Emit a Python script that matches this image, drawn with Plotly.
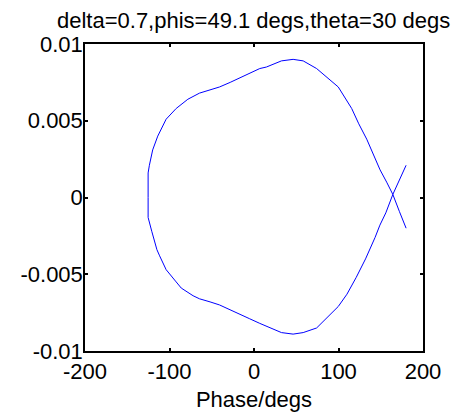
import plotly.graph_objects as go

# Trajectory traced in the (phase, amplitude) plane, in drawing order:
# upper-right tail -> crossing -> lower lobe (right to left) -> upper lobe (left to right) -> lower-right tail
phase_degs = [
    180.0, 172.0, 164.3,
    156.0, 149.0, 143.3, 132.0, 121.0, 110.0, 99.7, 85.0, 74.1, 58.2, 46.3, 32.5, 18.6, 6.8, -5.1,
    -17.0, -28.2, -40.8, -52.0, -64.5, -72.1, -78.3, -86.1, -92.1, -100.1, -104.0, -111.7, -114.9,
    -121.0, -123.8, -125.3, -125.3,
    -125.3, -123.8, -119.9, -113.9, -104.0, -92.1, -78.3, -64.5, -52.0, -40.8, -28.2, -17.0, -5.1,
    6.8, 14.7, 32.5, 46.3, 58.2, 74.1, 85.0, 99.7, 115.6, 124.0, 133.4, 141.0, 149.2, 157.0,
    164.3, 172.0, 180.0,
]
amplitude = [
    0.0021, 0.0011, 0.0002,
    -0.0010, -0.0018, -0.0026, -0.0040, -0.0052, -0.0063, -0.0071, -0.0079, -0.0085, -0.0088, -0.0089,
    -0.0088, -0.0085, -0.0082, -0.0079,
    -0.0076, -0.0073, -0.0070, -0.0068, -0.0066, -0.0064, -0.0062, -0.0059, -0.0055, -0.0050, -0.0047,
    -0.0038, -0.0034,
    -0.0022, -0.0017, -0.0013, 0.0,
    0.0016, 0.0021, 0.0031, 0.0040, 0.0051, 0.0058, 0.0064, 0.0068, 0.0070, 0.0072, 0.0075, 0.0078,
    0.0081,
    0.0084, 0.0085, 0.0089, 0.0090, 0.0089, 0.0084, 0.0079, 0.0072, 0.0058, 0.0048, 0.0038, 0.0028,
    0.0018, 0.0010,
    0.0002, -0.0009, -0.0020,
]

x_ticks = [-200, -100, 0, 100, 200]
x_tick_text = ["-200", "-100", "0", "100", "200"]
y_ticks = [-0.01, -0.005, 0, 0.005, 0.01]
y_tick_text = ["-0.01", "-0.005", "0", "0.005", "0.01"]

FONT = "Liberation Sans, Arial, sans-serif"

fig = go.Figure(
    go.Scatter(
        x=phase_degs,
        y=amplitude,
        mode="lines",
        line=dict(color="#0000ff", width=1),
        hoverinfo="skip",
    )
)

axis_common = dict(
    showgrid=False,
    zeroline=False,
    showline=True,
    linecolor="black",
    linewidth=1.5,
    mirror="ticks",
    ticks="inside",
    ticklen=3,
    tickwidth=1.5,
    tickcolor="black",
    automargin=False,
    tickfont=dict(family=FONT, size=22, color="black"),
)

fig.update_xaxes(
    range=[-200, 200],
    tickvals=x_ticks,
    ticktext=x_tick_text,
    ticklabelstandoff=0,
    title=dict(text="Phase/degs", font=dict(family=FONT, size=22, color="black"), standoff=11),
    **axis_common,
)
fig.update_yaxes(
    range=[-0.01, 0.01],
    tickvals=y_ticks,
    ticktext=y_tick_text,
    ticklabelstandoff=-4,
    **axis_common,
)

fig.update_layout(
    width=457,
    height=412,
    margin=dict(l=85, r=34, t=44, b=61),
    paper_bgcolor="white",
    plot_bgcolor="white",
    showlegend=False,
    title=dict(
        text="delta=0.7,phis=49.1 degs,theta=30 degs",
        font=dict(family=FONT, size=22, color="black"),
        x=0.555,
        xanchor="center",
        y=0.95,
        yanchor="middle",
    ),
)

fig.write_html("out.html")
